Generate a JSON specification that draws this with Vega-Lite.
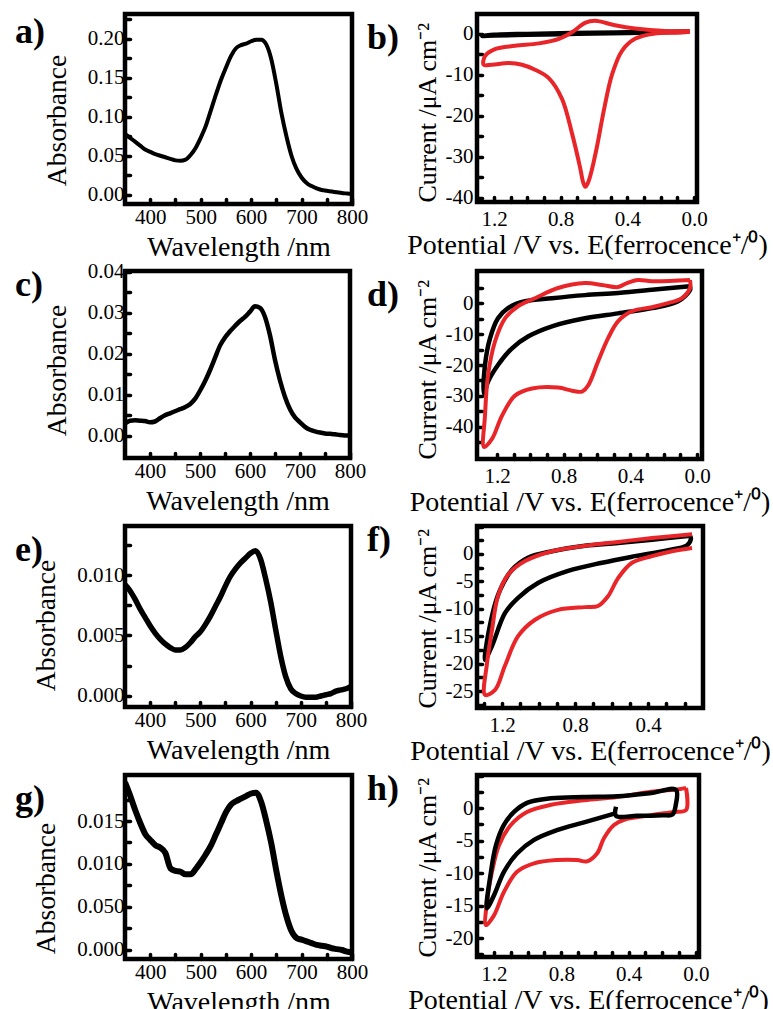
{
"$schema": "https://vega.github.io/schema/vega-lite/v6.json",
"padding": {"left": 12, "top": 6, "right": 2, "bottom": 2},
"background": "white",
"config": {
 "font": "Liberation Serif",
 "view": {"stroke": "black", "strokeWidth": 4.5},
 "axis": {"domain": false, "grid": false, "ticks": true, "tickColor": "black", "tickWidth": 3.5, "tickSize": -5, "tickCap": "round", "labelFont": "Liberation Serif", "labelFontSize": 21, "labelColor": "black", "titleFont": "Liberation Serif", "titleFontSize": 28, "titleFontWeight": "normal", "titleColor": "black", "labelOverlap": false, "labelFlush": false},
 "title": {"font": "Liberation Serif", "fontSize": 36, "fontWeight": "bold", "color": "black", "anchor": "start", "frame": "group", "offset": 0, "baseline": "alphabetic", "dx": -110, "dy": 47}
},
"datasets": {
 "abs": [
  {"p":"a","w":350,"A":0.078},{"p":"a","w":360,"A":0.073},{"p":"a","w":370,"A":0.068},{"p":"a","w":380,"A":0.063},{"p":"a","w":390,"A":0.058},{"p":"a","w":400,"A":0.055},{"p":"a","w":410,"A":0.052},{"p":"a","w":420,"A":0.050},{"p":"a","w":430,"A":0.048},{"p":"a","w":440,"A":0.046},{"p":"a","w":450,"A":0.044},{"p":"a","w":460,"A":0.0435},{"p":"a","w":470,"A":0.045},{"p":"a","w":480,"A":0.051},{"p":"a","w":490,"A":0.060},{"p":"a","w":500,"A":0.073},{"p":"a","w":510,"A":0.088},{"p":"a","w":520,"A":0.108},{"p":"a","w":530,"A":0.128},{"p":"a","w":540,"A":0.147},{"p":"a","w":550,"A":0.163},{"p":"a","w":560,"A":0.178},{"p":"a","w":570,"A":0.188},{"p":"a","w":580,"A":0.192},{"p":"a","w":590,"A":0.194},{"p":"a","w":600,"A":0.197},{"p":"a","w":610,"A":0.199},{"p":"a","w":620,"A":0.199},{"p":"a","w":630,"A":0.193},{"p":"a","w":640,"A":0.174},{"p":"a","w":650,"A":0.142},{"p":"a","w":660,"A":0.105},{"p":"a","w":670,"A":0.075},{"p":"a","w":680,"A":0.050},{"p":"a","w":690,"A":0.033},{"p":"a","w":700,"A":0.022},{"p":"a","w":710,"A":0.015},{"p":"a","w":720,"A":0.011},{"p":"a","w":730,"A":0.008},{"p":"a","w":740,"A":0.006},{"p":"a","w":750,"A":0.005},{"p":"a","w":760,"A":0.004},{"p":"a","w":770,"A":0.003},{"p":"a","w":780,"A":0.002},{"p":"a","w":790,"A":0.0015},{"p":"a","w":800,"A":0.001},
  {"p":"c","w":350,"A":0.0030},{"p":"c","w":360,"A":0.0037},{"p":"c","w":370,"A":0.0038},{"p":"c","w":380,"A":0.0037},{"p":"c","w":390,"A":0.0036},{"p":"c","w":400,"A":0.0033},{"p":"c","w":410,"A":0.0035},{"p":"c","w":420,"A":0.0043},{"p":"c","w":430,"A":0.0050},{"p":"c","w":440,"A":0.0055},{"p":"c","w":450,"A":0.0060},{"p":"c","w":460,"A":0.0065},{"p":"c","w":470,"A":0.0070},{"p":"c","w":480,"A":0.0077},{"p":"c","w":490,"A":0.0090},{"p":"c","w":500,"A":0.0110},{"p":"c","w":510,"A":0.0133},{"p":"c","w":520,"A":0.0160},{"p":"c","w":530,"A":0.0190},{"p":"c","w":540,"A":0.0220},{"p":"c","w":550,"A":0.0240},{"p":"c","w":560,"A":0.0255},{"p":"c","w":570,"A":0.0268},{"p":"c","w":580,"A":0.0280},{"p":"c","w":590,"A":0.0290},{"p":"c","w":600,"A":0.0303},{"p":"c","w":610,"A":0.0316},{"p":"c","w":620,"A":0.0312},{"p":"c","w":630,"A":0.0290},{"p":"c","w":640,"A":0.0245},{"p":"c","w":650,"A":0.0185},{"p":"c","w":660,"A":0.0135},{"p":"c","w":670,"A":0.0095},{"p":"c","w":680,"A":0.0065},{"p":"c","w":690,"A":0.0045},{"p":"c","w":700,"A":0.0033},{"p":"c","w":710,"A":0.0022},{"p":"c","w":720,"A":0.0015},{"p":"c","w":730,"A":0.0011},{"p":"c","w":740,"A":0.0008},{"p":"c","w":750,"A":0.0006},{"p":"c","w":760,"A":0.0005},{"p":"c","w":770,"A":0.0004},{"p":"c","w":780,"A":0.0002},{"p":"c","w":790,"A":0.0001},{"p":"c","w":800,"A":0.0001},
  {"p":"e","w":350,"A":0.0092},{"p":"e","w":360,"A":0.0087},{"p":"e","w":370,"A":0.0080},{"p":"e","w":380,"A":0.0072},{"p":"e","w":390,"A":0.0065},{"p":"e","w":400,"A":0.0058},{"p":"e","w":410,"A":0.0052},{"p":"e","w":420,"A":0.0047},{"p":"e","w":430,"A":0.0043},{"p":"e","w":440,"A":0.0040},{"p":"e","w":450,"A":0.0038},{"p":"e","w":460,"A":0.0038},{"p":"e","w":470,"A":0.0040},{"p":"e","w":480,"A":0.0044},{"p":"e","w":490,"A":0.0049},{"p":"e","w":500,"A":0.0053},{"p":"e","w":510,"A":0.0059},{"p":"e","w":520,"A":0.0066},{"p":"e","w":530,"A":0.0074},{"p":"e","w":540,"A":0.0082},{"p":"e","w":550,"A":0.0091},{"p":"e","w":560,"A":0.0099},{"p":"e","w":570,"A":0.0105},{"p":"e","w":580,"A":0.0110},{"p":"e","w":590,"A":0.0114},{"p":"e","w":600,"A":0.0118},{"p":"e","w":610,"A":0.0120},{"p":"e","w":620,"A":0.0113},{"p":"e","w":630,"A":0.0097},{"p":"e","w":640,"A":0.0078},{"p":"e","w":650,"A":0.0055},{"p":"e","w":660,"A":0.0033},{"p":"e","w":670,"A":0.0016},{"p":"e","w":680,"A":0.0006},{"p":"e","w":690,"A":0.0002},{"p":"e","w":700,"A":0.0000},{"p":"e","w":710,"A":-0.0001},{"p":"e","w":720,"A":-0.0001},{"p":"e","w":730,"A":-0.0001},{"p":"e","w":740,"A":0.0000},{"p":"e","w":750,"A":0.0001},{"p":"e","w":760,"A":0.0002},{"p":"e","w":770,"A":0.0004},{"p":"e","w":780,"A":0.0005},{"p":"e","w":790,"A":0.0006},{"p":"e","w":800,"A":0.0008},
  {"p":"g","w":350,"A":0.0195},{"p":"g","w":360,"A":0.0180},{"p":"g","w":370,"A":0.0163},{"p":"g","w":380,"A":0.0148},{"p":"g","w":390,"A":0.0135},{"p":"g","w":400,"A":0.0128},{"p":"g","w":410,"A":0.0122},{"p":"g","w":420,"A":0.0119},{"p":"g","w":430,"A":0.0113},{"p":"g","w":440,"A":0.0095},{"p":"g","w":450,"A":0.0092},{"p":"g","w":460,"A":0.0091},{"p":"g","w":470,"A":0.0088},{"p":"g","w":480,"A":0.0088},{"p":"g","w":490,"A":0.0094},{"p":"g","w":500,"A":0.0102},{"p":"g","w":510,"A":0.0111},{"p":"g","w":520,"A":0.0121},{"p":"g","w":530,"A":0.0134},{"p":"g","w":540,"A":0.0147},{"p":"g","w":550,"A":0.0160},{"p":"g","w":560,"A":0.0169},{"p":"g","w":570,"A":0.0173},{"p":"g","w":580,"A":0.0176},{"p":"g","w":590,"A":0.0179},{"p":"g","w":600,"A":0.0182},{"p":"g","w":610,"A":0.0183},{"p":"g","w":620,"A":0.0172},{"p":"g","w":630,"A":0.0150},{"p":"g","w":640,"A":0.0124},{"p":"g","w":650,"A":0.0092},{"p":"g","w":660,"A":0.0063},{"p":"g","w":670,"A":0.0039},{"p":"g","w":680,"A":0.0022},{"p":"g","w":690,"A":0.0014},{"p":"g","w":700,"A":0.0012},{"p":"g","w":710,"A":0.0010},{"p":"g","w":720,"A":0.0008},{"p":"g","w":730,"A":0.0006},{"p":"g","w":740,"A":0.0005},{"p":"g","w":750,"A":0.0004},{"p":"g","w":760,"A":0.0002},{"p":"g","w":770,"A":0.0001},{"p":"g","w":780,"A":0.0000},{"p":"g","w":790,"A":-0.0002},{"p":"g","w":800,"A":-0.0003}
 ],
 "cv": [
  {"p":"b","s":"k","i":0,"E":0.03,"I":0.4},{"p":"b","s":"k","i":1,"E":0.2,"I":0.3},{"p":"b","s":"k","i":2,"E":0.4,"I":0.15},{"p":"b","s":"k","i":3,"E":0.6,"I":0.0},{"p":"b","s":"k","i":4,"E":0.8,"I":-0.15},{"p":"b","s":"k","i":5,"E":1.0,"I":-0.3},{"p":"b","s":"k","i":6,"E":1.2,"I":-0.5},{"p":"b","s":"k","i":7,"E":1.27,"I":-0.6},{"p":"b","s":"k","i":8,"E":1.2,"I":-0.3},{"p":"b","s":"k","i":9,"E":1.0,"I":-0.1},{"p":"b","s":"k","i":10,"E":0.8,"I":0.05},{"p":"b","s":"k","i":11,"E":0.6,"I":0.2},{"p":"b","s":"k","i":12,"E":0.4,"I":0.3},{"p":"b","s":"k","i":13,"E":0.2,"I":0.4},{"p":"b","s":"k","i":14,"E":0.03,"I":0.5},
  {"p":"b","s":"r","i":0,"E":0.024,"I":0.6},{"p":"b","s":"r","i":1,"E":0.174,"I":0.6},{"p":"b","s":"r","i":2,"E":0.354,"I":1.2},{"p":"b","s":"r","i":3,"E":0.474,"I":2.0},{"p":"b","s":"r","i":4,"E":0.594,"I":3.1},{"p":"b","s":"r","i":5,"E":0.654,"I":2.6},{"p":"b","s":"r","i":6,"E":0.732,"I":0.3},{"p":"b","s":"r","i":7,"E":0.81,"I":-1.3},{"p":"b","s":"r","i":8,"E":0.93,"I":-2.4},{"p":"b","s":"r","i":9,"E":1.074,"I":-3.0},{"p":"b","s":"r","i":10,"E":1.194,"I":-3.8},{"p":"b","s":"r","i":11,"E":1.254,"I":-5.5},{"p":"b","s":"r","i":12,"E":1.262,"I":-7.6},{"p":"b","s":"r","i":13,"E":1.212,"I":-7.6},{"p":"b","s":"r","i":14,"E":1.11,"I":-7.2},{"p":"b","s":"r","i":15,"E":1.032,"I":-7.6},{"p":"b","s":"r","i":16,"E":0.954,"I":-8.8},{"p":"b","s":"r","i":17,"E":0.87,"I":-10.9},{"p":"b","s":"r","i":18,"E":0.792,"I":-15.9},{"p":"b","s":"r","i":19,"E":0.732,"I":-24.3},{"p":"b","s":"r","i":20,"E":0.684,"I":-32.5},{"p":"b","s":"r","i":21,"E":0.665,"I":-36.2},{"p":"b","s":"r","i":22,"E":0.652,"I":-37.3},{"p":"b","s":"r","i":23,"E":0.636,"I":-36.3},{"p":"b","s":"r","i":24,"E":0.615,"I":-33.5},{"p":"b","s":"r","i":25,"E":0.582,"I":-27.5},{"p":"b","s":"r","i":26,"E":0.54,"I":-18.5},{"p":"b","s":"r","i":27,"E":0.492,"I":-10},{"p":"b","s":"r","i":28,"E":0.432,"I":-4.2},{"p":"b","s":"r","i":29,"E":0.354,"I":-1.3},{"p":"b","s":"r","i":30,"E":0.234,"I":0},{"p":"b","s":"r","i":31,"E":0.114,"I":0.2},{"p":"b","s":"r","i":32,"E":0.024,"I":0.4},
  {"p":"d","s":"k","i":0,"E":0.042,"I":5.5},{"p":"d","s":"k","i":1,"E":0.27,"I":4.3},{"p":"d","s":"k","i":2,"E":0.474,"I":3.3},{"p":"d","s":"k","i":3,"E":0.672,"I":2.6},{"p":"d","s":"k","i":4,"E":0.87,"I":1.6},{"p":"d","s":"k","i":5,"E":1.032,"I":0.6},{"p":"d","s":"k","i":6,"E":1.134,"I":-1.6},{"p":"d","s":"k","i":7,"E":1.194,"I":-4.9},{"p":"d","s":"k","i":8,"E":1.242,"I":-11.4},{"p":"d","s":"k","i":9,"E":1.272,"I":-20},{"p":"d","s":"k","i":10,"E":1.278,"I":-29.3},{"p":"d","s":"k","i":11,"E":1.254,"I":-25.4},{"p":"d","s":"k","i":12,"E":1.194,"I":-20},{"p":"d","s":"k","i":13,"E":1.11,"I":-14.6},{"p":"d","s":"k","i":14,"E":1.014,"I":-10.8},{"p":"d","s":"k","i":15,"E":0.87,"I":-7.5},{"p":"d","s":"k","i":16,"E":0.672,"I":-4.9},{"p":"d","s":"k","i":17,"E":0.474,"I":-3.3},{"p":"d","s":"k","i":18,"E":0.27,"I":-1.6},{"p":"d","s":"k","i":19,"E":0.114,"I":0.6},{"p":"d","s":"k","i":20,"E":0.042,"I":4.2},{"p":"d","s":"k","i":21,"E":0.042,"I":5.5},
  {"p":"d","s":"r","i":0,"E":0.042,"I":7.5},{"p":"d","s":"r","i":1,"E":0.27,"I":7.1},{"p":"d","s":"r","i":2,"E":0.354,"I":7.5},{"p":"d","s":"r","i":3,"E":0.42,"I":6.5},{"p":"d","s":"r","i":4,"E":0.474,"I":5.2},{"p":"d","s":"r","i":5,"E":0.57,"I":5.9},{"p":"d","s":"r","i":6,"E":0.672,"I":6.5},{"p":"d","s":"r","i":7,"E":0.834,"I":4.9},{"p":"d","s":"r","i":8,"E":0.972,"I":1.6},{"p":"d","s":"r","i":9,"E":1.074,"I":-1.0},{"p":"d","s":"r","i":10,"E":1.152,"I":-4.9},{"p":"d","s":"r","i":11,"E":1.212,"I":-12.4},{"p":"d","s":"r","i":12,"E":1.254,"I":-23.4},{"p":"d","s":"r","i":13,"E":1.272,"I":-36.4},{"p":"d","s":"r","i":14,"E":1.278,"I":-46.5},{"p":"d","s":"r","i":15,"E":1.23,"I":-43.9},{"p":"d","s":"r","i":16,"E":1.17,"I":-36.4},{"p":"d","s":"r","i":17,"E":1.092,"I":-29.9},{"p":"d","s":"r","i":18,"E":0.99,"I":-27.6},{"p":"d","s":"r","i":19,"E":0.834,"I":-27.3},{"p":"d","s":"r","i":20,"E":0.75,"I":-28.3},{"p":"d","s":"r","i":21,"E":0.69,"I":-28.6},{"p":"d","s":"r","i":22,"E":0.654,"I":-26.7},{"p":"d","s":"r","i":23,"E":0.594,"I":-18.9},{"p":"d","s":"r","i":24,"E":0.534,"I":-11.4},{"p":"d","s":"r","i":25,"E":0.474,"I":-5.9},{"p":"d","s":"r","i":26,"E":0.39,"I":-2.6},{"p":"d","s":"r","i":27,"E":0.27,"I":-1.3},{"p":"d","s":"r","i":28,"E":0.174,"I":0},{"p":"d","s":"r","i":29,"E":0.09,"I":1.6},{"p":"d","s":"r","i":30,"E":0.042,"I":4.9},{"p":"d","s":"r","i":31,"E":0.042,"I":7.5},
  {"p":"f","s":"k","i":0,"E":0.17,"I":3.3},{"p":"f","s":"k","i":1,"E":0.378,"I":2.6},{"p":"f","s":"k","i":2,"E":0.564,"I":2.0},{"p":"f","s":"k","i":3,"E":0.745,"I":1.5},{"p":"f","s":"k","i":4,"E":0.926,"I":0.5},{"p":"f","s":"k","i":5,"E":1.058,"I":-0.7},{"p":"f","s":"k","i":6,"E":1.145,"I":-2.9},{"p":"f","s":"k","i":7,"E":1.211,"I":-6.6},{"p":"f","s":"k","i":8,"E":1.255,"I":-11.3},{"p":"f","s":"k","i":9,"E":1.293,"I":-19.3},{"p":"f","s":"k","i":10,"E":1.255,"I":-16.8},{"p":"f","s":"k","i":11,"E":1.184,"I":-10.8},{"p":"f","s":"k","i":12,"E":1.112,"I":-8.0},{"p":"f","s":"k","i":13,"E":1.003,"I":-5.3},{"p":"f","s":"k","i":14,"E":0.838,"I":-3.1},{"p":"f","s":"k","i":15,"E":0.652,"I":-1.6},{"p":"f","s":"k","i":16,"E":0.471,"I":-0.4},{"p":"f","s":"k","i":17,"E":0.29,"I":0.7},{"p":"f","s":"k","i":18,"E":0.186,"I":1.6},{"p":"f","s":"k","i":19,"E":0.165,"I":2.8},{"p":"f","s":"k","i":20,"E":0.17,"I":3.3},
  {"p":"f","s":"r","i":0,"E":0.159,"I":3.6},{"p":"f","s":"r","i":1,"E":0.378,"I":2.9},{"p":"f","s":"r","i":2,"E":0.564,"I":2.2},{"p":"f","s":"r","i":3,"E":0.745,"I":1.5},{"p":"f","s":"r","i":4,"E":0.926,"I":0.5},{"p":"f","s":"r","i":5,"E":1.074,"I":-1.3},{"p":"f","s":"r","i":6,"E":1.167,"I":-3.8},{"p":"f","s":"r","i":7,"E":1.222,"I":-7.7},{"p":"f","s":"r","i":8,"E":1.255,"I":-13.9},{"p":"f","s":"r","i":9,"E":1.282,"I":-19.9},{"p":"f","s":"r","i":10,"E":1.293,"I":-25.7},{"p":"f","s":"r","i":11,"E":1.238,"I":-24.8},{"p":"f","s":"r","i":12,"E":1.184,"I":-20.4},{"p":"f","s":"r","i":13,"E":1.112,"I":-15},{"p":"f","s":"r","i":14,"E":1.019,"I":-12},{"p":"f","s":"r","i":15,"E":0.893,"I":-10.2},{"p":"f","s":"r","i":16,"E":0.745,"I":-9.7},{"p":"f","s":"r","i":17,"E":0.674,"I":-9.5},{"p":"f","s":"r","i":18,"E":0.619,"I":-7.7},{"p":"f","s":"r","i":19,"E":0.564,"I":-4.4},{"p":"f","s":"r","i":20,"E":0.488,"I":-1.6},{"p":"f","s":"r","i":21,"E":0.378,"I":-0.4},{"p":"f","s":"r","i":22,"E":0.268,"I":0.5},{"p":"f","s":"r","i":23,"E":0.159,"I":1.1},
  {"p":"h","s":"k","i":0,"E":0.475,"I":0.2},{"p":"h","s":"k","i":1,"E":0.475,"I":-1.2},{"p":"h","s":"k","i":2,"E":0.35,"I":-1.2},{"p":"h","s":"k","i":3,"E":0.2,"I":-1.1},{"p":"h","s":"k","i":4,"E":0.14,"I":-1.0},{"p":"h","s":"k","i":5,"E":0.12,"I":0.5},{"p":"h","s":"k","i":6,"E":0.119,"I":2.8},{"p":"h","s":"k","i":7,"E":0.267,"I":2.3},{"p":"h","s":"k","i":8,"E":0.469,"I":1.8},{"p":"h","s":"k","i":9,"E":0.665,"I":1.7},{"p":"h","s":"k","i":10,"E":0.861,"I":1.5},{"p":"h","s":"k","i":11,"E":1.004,"I":0.8},{"p":"h","s":"k","i":12,"E":1.081,"I":-0.6},{"p":"h","s":"k","i":13,"E":1.141,"I":-2.6},{"p":"h","s":"k","i":14,"E":1.188,"I":-5.7},{"p":"h","s":"k","i":15,"E":1.218,"I":-9.8},{"p":"h","s":"k","i":16,"E":1.242,"I":-15.4},{"p":"h","s":"k","i":17,"E":1.2,"I":-13.4},{"p":"h","s":"k","i":18,"E":1.141,"I":-9.8},{"p":"h","s":"k","i":19,"E":1.063,"I":-7.0},{"p":"h","s":"k","i":20,"E":0.962,"I":-4.9},{"p":"h","s":"k","i":21,"E":0.826,"I":-3.4},{"p":"h","s":"k","i":22,"E":0.665,"I":-2.2},{"p":"h","s":"k","i":23,"E":0.49,"I":-0.9},
  {"p":"h","s":"r","i":0,"E":0.059,"I":3.1},{"p":"h","s":"r","i":1,"E":0.1,"I":2.9},{"p":"h","s":"r","i":2,"E":0.267,"I":2.5},{"p":"h","s":"r","i":3,"E":0.469,"I":1.7},{"p":"h","s":"r","i":4,"E":0.665,"I":1.2},{"p":"h","s":"r","i":5,"E":0.861,"I":0.5},{"p":"h","s":"r","i":6,"E":1.004,"I":-0.6},{"p":"h","s":"r","i":7,"E":1.1,"I":-2.6},{"p":"h","s":"r","i":8,"E":1.17,"I":-5.7},{"p":"h","s":"r","i":9,"E":1.212,"I":-9.8},{"p":"h","s":"r","i":10,"E":1.242,"I":-14.5},{"p":"h","s":"r","i":11,"E":1.248,"I":-18},{"p":"h","s":"r","i":12,"E":1.2,"I":-16.5},{"p":"h","s":"r","i":13,"E":1.141,"I":-12.9},{"p":"h","s":"r","i":14,"E":1.063,"I":-9.8},{"p":"h","s":"r","i":15,"E":0.962,"I":-8.5},{"p":"h","s":"r","i":16,"E":0.826,"I":-8.0},{"p":"h","s":"r","i":17,"E":0.707,"I":-8.0},{"p":"h","s":"r","i":18,"E":0.647,"I":-8.2},{"p":"h","s":"r","i":19,"E":0.588,"I":-7.0},{"p":"h","s":"r","i":20,"E":0.546,"I":-4.6},{"p":"h","s":"r","i":21,"E":0.487,"I":-2.6},{"p":"h","s":"r","i":22,"E":0.427,"I":-1.8},{"p":"h","s":"r","i":23,"E":0.267,"I":-1.1},{"p":"h","s":"r","i":24,"E":0.13,"I":-0.6},{"p":"h","s":"r","i":25,"E":0.059,"I":-0.3},{"p":"h","s":"r","i":26,"E":0.059,"I":3.1}
 ]
},
"columns": 2,
"spacing": {"row": 67, "column": 125},
"bounds": "flush",
"align": "each",
"concat": [
 {
  "width": 227, "height": 190,
  "title": {"text": "a)"},
  "data": {"name": "abs"},
  "transform": [{"filter": "datum.p === 'a'"}],
  "mark": {"type": "line", "color": "black", "strokeWidth": 4, "interpolate": "monotone", "clip": true},
  "encoding": {
   "x": {"field": "w", "type": "quantitative", "scale": {"domain": [350, 800], "nice": false, "zero": false}, "axis": {"title": "Wavelength /nm", "values": [400,450,500,550,600,650,700,750,800], "labelExpr": "datum.value % 100 === 0 ? '' + datum.value : ''", "labelPadding": 7, "titlePadding": 6}},
   "y": {"field": "A", "type": "quantitative", "scale": {"domain": [-0.012, 0.232], "nice": false, "zero": false}, "axis": {"title": "Absorbance", "titleFontSize": 27.5, "titleY": 106, "values": [0,0.025,0.05,0.075,0.1,0.125,0.15,0.175,0.2,0.225], "labelExpr": "round(datum.value*1000) % 50 === 0 ? format(datum.value, '.2f') : ''", "labelPadding": 6, "titlePadding": 16}}
  }
 },
 {
  "width": 220, "height": 188,
  "title": {"text": "b)"},
  "data": {"name": "cv"},
  "transform": [{"filter": "datum.p === 'b'"}],
  "encoding": {
   "x": {"field": "E", "type": "quantitative", "scale": {"domain": [1.302, -0.018], "nice": false, "zero": false}, "axis": {"title": "Potential /V vs. E(ferrocence⁺/⁰)", "values": [1.2,1.1,1.0,0.9,0.8,0.7,0.6,0.5,0.4,0.3,0.2,0.1,0.0], "labelExpr": "round(datum.value*10) % 4 === 0 ? format(datum.value, '.1f') : ''", "labelPadding": 11, "titlePadding": 2}},
   "y": {"field": "I", "type": "quantitative", "scale": {"domain": [-41, 4.75], "nice": false, "zero": false}, "axis": {"title": "Current /μA cm⁻²", "titleFontSize": 26, "titleAnchor": "start", "values": [-40,-35,-30,-25,-20,-15,-10,-5,0], "labelExpr": "datum.value % 10 === 0 ? (datum.value < 0 ? '-' : '') + abs(datum.value) : ''", "labelPadding": 9, "titlePadding": 5}},
   "order": {"field": "i", "type": "quantitative"}
  },
  "layer": [
   {"transform": [{"filter": "datum.s === 'k'"}], "mark": {"type": "line", "color": "black", "strokeWidth": 4.5, "interpolate": "catmull-rom", "clip": true}},
   {"transform": [{"filter": "datum.s === 'r'"}], "mark": {"type": "line", "color": "#e8262a", "strokeWidth": 4, "interpolate": "catmull-rom", "clip": true}}
  ]
 },
 {
  "width": 225, "height": 187,
  "title": {"text": "c)"},
  "data": {"name": "abs"},
  "transform": [{"filter": "datum.p === 'c'"}],
  "mark": {"type": "line", "color": "black", "strokeWidth": 4.5, "interpolate": "monotone", "clip": true},
  "encoding": {
   "x": {"field": "w", "type": "quantitative", "scale": {"domain": [350, 800], "nice": false, "zero": false}, "axis": {"title": "Wavelength /nm", "values": [400,450,500,550,600,650,700,750,800], "labelExpr": "datum.value % 100 === 0 ? '' + datum.value : ''", "labelPadding": 7, "titlePadding": 6}},
   "y": {"field": "A", "type": "quantitative", "scale": {"domain": [-0.0054, 0.0402], "nice": false, "zero": false}, "axis": {"title": "Absorbance", "titleFontSize": 27.5, "titleY": 99, "values": [0,0.005,0.01,0.015,0.02,0.025,0.03,0.035,0.04], "labelExpr": "round(datum.value*1000) % 10 === 0 ? format(datum.value, '.2f') : ''", "labelPadding": 6, "titlePadding": 16}}
  }
 },
 {
  "width": 225, "height": 188,
  "title": {"text": "d)"},
  "data": {"name": "cv"},
  "transform": [{"filter": "datum.p === 'd'"}],
  "encoding": {
   "x": {"field": "E", "type": "quantitative", "scale": {"domain": [1.32, -0.03], "nice": false, "zero": false}, "axis": {"title": "Potential /V vs. E(ferrocence⁺/⁰)", "values": [1.2,1.1,1.0,0.9,0.8,0.7,0.6,0.5,0.4,0.3,0.2,0.1,0.0], "labelExpr": "round(datum.value*10) % 4 === 0 ? format(datum.value, '.1f') : ''", "labelPadding": 11, "titlePadding": 2}},
   "y": {"field": "I", "type": "quantitative", "scale": {"domain": [-50.4, 10.4], "nice": false, "zero": false}, "axis": {"title": "Current /μA cm⁻²", "titleFontSize": 26, "titleAnchor": "start", "values": [-45,-40,-35,-30,-25,-20,-15,-10,-5,0,5], "labelExpr": "datum.value % 10 === 0 && datum.value <= 0 ? (datum.value < 0 ? '-' : '') + abs(datum.value) : ''", "labelPadding": 9, "titlePadding": 5}},
   "order": {"field": "i", "type": "quantitative"}
  },
  "layer": [
   {"transform": [{"filter": "datum.s === 'k'"}], "mark": {"type": "line", "color": "black", "strokeWidth": 4.5, "interpolate": "catmull-rom", "clip": true}},
   {"transform": [{"filter": "datum.s === 'r'"}], "mark": {"type": "line", "color": "#e8262a", "strokeWidth": 4, "interpolate": "catmull-rom", "clip": true}}
  ]
 },
 {
  "width": 226, "height": 181,
  "title": {"text": "e)"},
  "data": {"name": "abs"},
  "transform": [{"filter": "datum.p === 'e'"}],
  "mark": {"type": "line", "color": "black", "strokeWidth": 5.5, "interpolate": "monotone", "clip": true},
  "encoding": {
   "x": {"field": "w", "type": "quantitative", "scale": {"domain": [350, 800], "nice": false, "zero": false}, "axis": {"title": "Wavelength /nm", "values": [400,450,500,550,600,650,700,750,800], "labelExpr": "datum.value % 100 === 0 ? '' + datum.value : ''", "labelPadding": 7, "titlePadding": 6}},
   "y": {"field": "A", "type": "quantitative", "scale": {"domain": [-0.00091, 0.01405], "nice": false, "zero": false}, "axis": {"title": "Absorbance", "titleFontSize": 27.5, "titleY": 99, "values": [0,0.0025,0.005,0.0075,0.01,0.0125], "labelExpr": "round(datum.value*10000) % 50 === 0 ? format(datum.value, '.3f') : ''", "labelPadding": 6, "titlePadding": 16}}
  }
 },
 {
  "width": 226, "height": 182,
  "title": {"text": "f)"},
  "data": {"name": "cv"},
  "transform": [{"filter": "datum.p === 'f'"}],
  "encoding": {
   "x": {"field": "E", "type": "quantitative", "scale": {"domain": [1.337, 0.099], "nice": false, "zero": false}, "axis": {"title": "Potential /V vs. E(ferrocence⁺/⁰)", "values": [1.3,1.2,1.1,1.0,0.9,0.8,0.7,0.6,0.5,0.4,0.3,0.2], "labelExpr": "round(datum.value*10) % 4 === 0 ? format(datum.value, '.1f') : ''", "labelPadding": 11, "titlePadding": 2}},
   "y": {"field": "I", "type": "quantitative", "scale": {"domain": [-28.1, 5.1], "nice": false, "zero": false}, "axis": {"title": "Current /μA cm⁻²", "titleFontSize": 26, "titleAnchor": "start", "values": [-27.5,-25,-22.5,-20,-17.5,-15,-12.5,-10,-7.5,-5,-2.5,0,2.5,5], "labelExpr": "datum.value % 5 === 0 && datum.value <= 0 ? (datum.value < 0 ? '-' : '') + abs(datum.value) : ''", "labelPadding": 9, "titlePadding": 5}},
   "order": {"field": "i", "type": "quantitative"}
  },
  "layer": [
   {"transform": [{"filter": "datum.s === 'k'"}], "mark": {"type": "line", "color": "black", "strokeWidth": 4.5, "interpolate": "catmull-rom", "clip": true}},
   {"transform": [{"filter": "datum.s === 'r'"}], "mark": {"type": "line", "color": "#e8262a", "strokeWidth": 4, "interpolate": "catmull-rom", "clip": true}}
  ]
 },
 {
  "width": 227, "height": 184,
  "title": {"text": "g)"},
  "data": {"name": "abs"},
  "transform": [{"filter": "datum.p === 'g'"}],
  "mark": {"type": "line", "color": "black", "strokeWidth": 6, "interpolate": "monotone", "clip": true},
  "encoding": {
   "x": {"field": "w", "type": "quantitative", "scale": {"domain": [350, 800], "nice": false, "zero": false}, "axis": {"title": "Wavelength /nm", "values": [400,450,500,550,600,650,700,750,800], "labelExpr": "datum.value % 100 === 0 ? '' + datum.value : ''", "labelPadding": 7, "titlePadding": 6}},
   "y": {"field": "A", "type": "quantitative", "scale": {"domain": [-0.00105, 0.02035], "nice": false, "zero": false}, "axis": {"title": "Absorbance", "titleFontSize": 27.5, "titleY": 113, "values": [0,0.0025,0.005,0.0075,0.01,0.0125,0.015,0.0175], "labelExpr": "round(datum.value*10000) % 50 === 0 ? (round(datum.value*10000) === 50 ? '0.050' : format(datum.value, '.3f')) : ''", "labelPadding": 6, "titlePadding": 16}}
  }
 },
 {
  "width": 222, "height": 182,
  "title": {"text": "h)"},
  "data": {"name": "cv"},
  "transform": [{"filter": "datum.p === 'h'"}],
  "encoding": {
   "x": {"field": "E", "type": "quantitative", "scale": {"domain": [1.301, -0.018], "nice": false, "zero": false}, "axis": {"title": "Potential /V vs. E(ferrocence⁺/⁰)", "values": [1.2,1.1,1.0,0.9,0.8,0.7,0.6,0.5,0.4,0.3,0.2,0.1,0.0], "labelExpr": "round(datum.value*10) % 4 === 0 ? format(datum.value, '.1f') : ''", "labelPadding": 11, "titlePadding": 2}},
   "y": {"field": "I", "type": "quantitative", "scale": {"domain": [-22.9, 5.08], "nice": false, "zero": false}, "axis": {"title": "Current /μA cm⁻²", "titleFontSize": 26, "titleAnchor": "start", "values": [-22.5,-20,-17.5,-15,-12.5,-10,-7.5,-5,-2.5,0,2.5,5], "labelExpr": "datum.value % 5 === 0 && datum.value <= 0 ? (datum.value < 0 ? '-' : '') + abs(datum.value) : ''", "labelPadding": 9, "titlePadding": 5}},
   "order": {"field": "i", "type": "quantitative"}
  },
  "layer": [
   {"transform": [{"filter": "datum.s === 'r'"}], "mark": {"type": "line", "color": "#e8262a", "strokeWidth": 4, "interpolate": "catmull-rom", "clip": true}},
   {"transform": [{"filter": "datum.s === 'k'"}], "mark": {"type": "line", "color": "black", "strokeWidth": 4.5, "interpolate": "catmull-rom", "clip": true}}
  ]
 }
]
}
